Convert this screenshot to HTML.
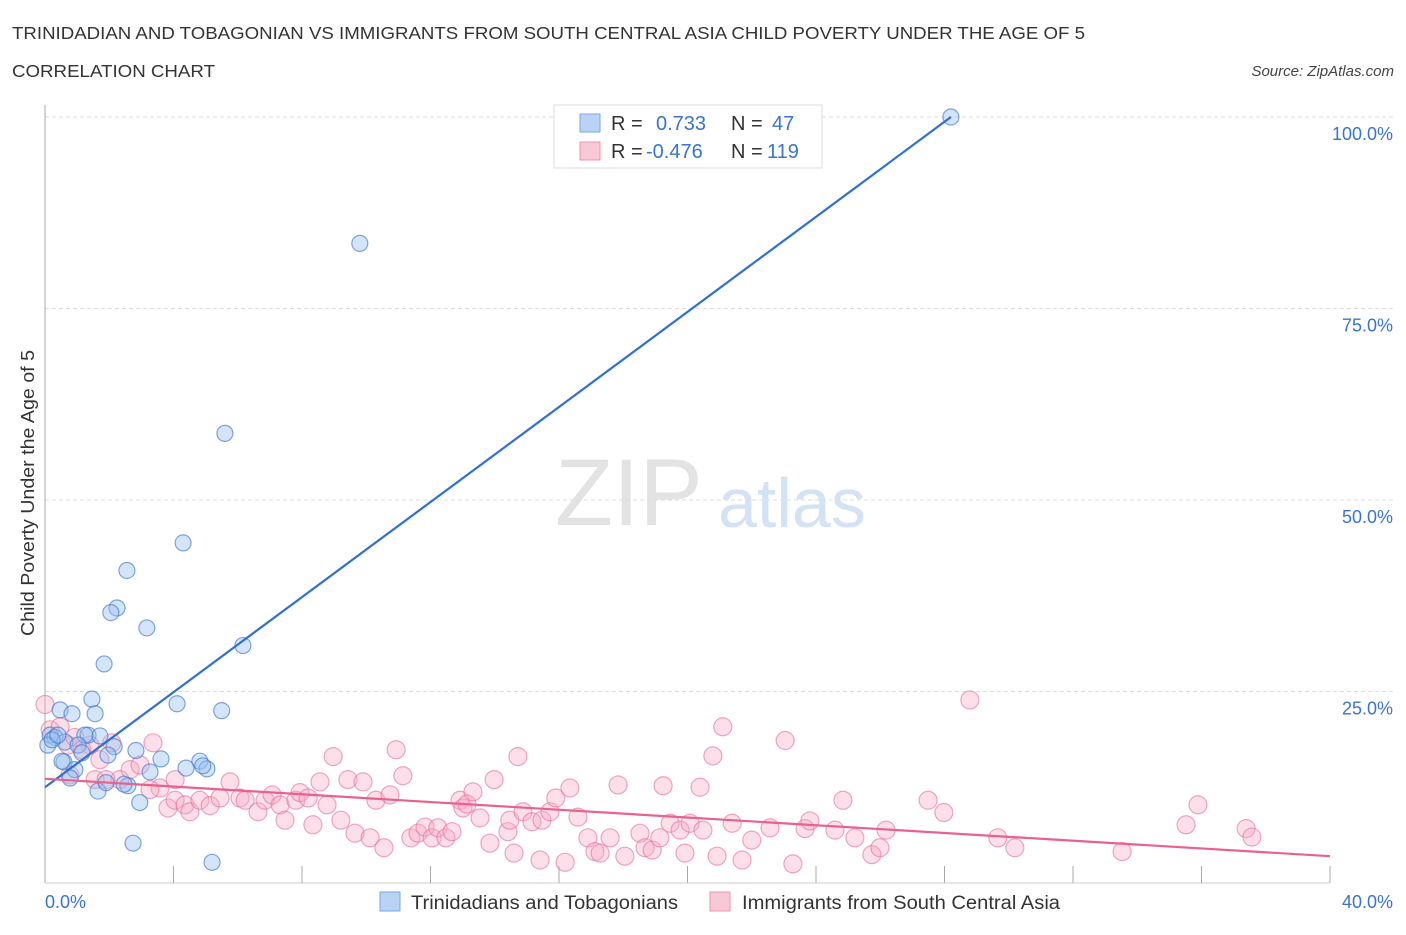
<!DOCTYPE html>
<html><head><meta charset="utf-8">
<style>
body{margin:0;background:#fff;font-family:"Liberation Sans",sans-serif;}
svg text{font-family:"Liberation Sans",sans-serif;}
</style></head>
<body>
<svg id="chart" width="1406" height="930" xmlns="http://www.w3.org/2000/svg">
<text x="12" y="39" font-size="17.5" fill="#333" textLength="1073" lengthAdjust="spacingAndGlyphs">TRINIDADIAN AND TOBAGONIAN VS IMMIGRANTS FROM SOUTH CENTRAL ASIA CHILD POVERTY UNDER THE AGE OF 5</text>
<text x="12" y="77" font-size="17.5" fill="#333" textLength="203" lengthAdjust="spacingAndGlyphs">CORRELATION CHART</text>
<text x="1394" y="76" font-size="15" fill="#444" font-style="italic" text-anchor="end">Source: ZipAtlas.com</text>
<text x="555" y="525" font-size="95" fill="#ddd" font-family="Liberation Serif" opacity="0.8">ZIP</text>
<text x="718" y="527" font-size="70" fill="#c9dcf2" opacity="0.8">atlas</text>
<text transform="translate(34,493) rotate(-90)" font-size="18" fill="#333" text-anchor="middle" textLength="286" lengthAdjust="spacingAndGlyphs">Child Poverty Under the Age of 5</text>
<g id="grid"></g><g id="axes"></g><g id="pink"></g><g id="blue"></g><g id="lines"></g>
<g>
<rect x="554" y="105" width="268" height="63" fill="#fff" stroke="#ddd"/>
<rect x="580" y="114" width="20" height="18" fill="#b9d3f5" stroke="#7aa7e6"/>
<rect x="580" y="142" width="20" height="18" fill="#f9c8d6" stroke="#ec93ae"/>
<text x="611" y="130" font-size="20" fill="#333">R =</text><text x="656" y="130" font-size="20" fill="#3a74d0">0.733</text>
<text x="731" y="130" font-size="20" fill="#333">N =</text><text x="772" y="130" font-size="20" fill="#3a74d0">47</text>
<text x="611" y="158" font-size="20" fill="#333">R =</text><text x="646" y="158" font-size="20" fill="#3a74d0">-0.476</text>
<text x="731" y="158" font-size="20" fill="#333">N =</text><text x="767" y="158" font-size="20" fill="#3a74d0">119</text>
</g>
<g>
<rect x="380" y="892" width="20" height="19" fill="#b9d3f5" stroke="#7aa7e6"/>
<text x="411" y="909" font-size="19" fill="#333" textLength="267" lengthAdjust="spacingAndGlyphs">Trinidadians and Tobagonians</text>
<rect x="710" y="892" width="20" height="19" fill="#f9c8d6" stroke="#ec93ae"/>
<text x="742" y="909" font-size="19" fill="#333" textLength="318" lengthAdjust="spacingAndGlyphs">Immigrants from South Central Asia</text>
</g>
</svg>
<script>
const yTicks=[25,50,75,100];
const yTickLabels=["25.0%","50.0%","75.0%","100.0%"];
const xTicks=[0,4,8,12,16,20,24,28,32,36,40];
const xLabels=["0.0%","40.0%"];
const blueX=[28.2,9.8,5.6,4.3,2.55,2.24,2.05,3.17,6.16,1.84,1.46,4.11,0.47,0.84,1.56,5.5,0.16,0.31,1.34,1.71,1.24,2.15,2.83,0.62,1.03,3.61,4.82,4.39,5.04,4.91,0.59,0.93,1.96,3.27,2.58,1.65,1.9,2.95,2.46,2.74,5.2,0.09,0.22,1.15,0.53,0.78,0.40];
const blueY=[100,83.5,58.7,44.4,40.8,35.9,35.3,33.3,31.0,28.6,24.0,23.4,22.6,22.1,22.1,22.5,19.3,19.0,19.3,19.2,19.3,17.8,17.3,18.4,18.0,16.2,15.9,15.0,14.9,15.3,15.8,14.8,16.7,14.5,12.7,12.0,13.1,10.5,12.9,5.2,2.7,18.0,18.7,17.0,15.9,13.7,19.3];
const pinkX=[0,0.16,0.47,0.72,0.93,1.4,1.71,2.08,2.33,2.65,2.96,3.36,3.58,3.83,4.05,4.36,4.51,4.82,5.14,5.45,5.76,6.07,6.23,6.63,6.85,7.07,7.32,7.47,7.81,7.94,8.19,8.34,8.56,8.78,8.97,9.21,9.43,9.65,9.9,10.12,10.3,10.55,10.74,10.93,11.14,11.39,11.61,11.83,12.05,12.23,12.48,12.67,12.92,13.01,13.14,13.32,13.54,13.85,13.98,14.41,14.47,14.6,14.72,14.88,15.16,15.41,15.47,15.72,15.9,16.19,16.34,16.59,16.9,17.12,17.28,17.59,17.84,18.05,18.52,18.68,18.9,19.14,19.24,19.46,19.77,19.92,20.08,20.39,20.48,20.79,20.92,21.1,21.39,21.7,22.0,22.57,23.04,23.28,23.66,23.81,24.59,24.84,25.21,25.74,25.99,26.18,27.49,27.98,28.79,29.66,30.19,33.53,35.52,35.89,37.39,37.57,0.78,1.15,1.56,1.9,3.27,4.05];
const pinkY=[23.3,20.0,20.4,18.0,19.0,18.0,16.1,18.3,13.5,14.8,15.4,18.3,12.4,9.8,10.8,10.2,9.3,10.8,10.1,11.1,13.2,11.1,10.8,9.3,10.8,11.5,10.2,8.2,10.8,11.8,11.1,7.6,13.2,10.2,16.5,8.2,13.5,6.5,13.2,5.9,10.8,4.6,11.5,17.4,14.0,5.9,6.5,7.3,5.9,7.2,5.9,6.7,10.8,9.8,10.3,11.9,8.5,5.2,13.5,6.7,8.2,3.9,16.5,9.3,8.0,3.0,8.2,9.3,11.1,2.7,12.4,8.6,5.9,4.1,3.9,5.9,12.8,3.5,6.5,4.6,4.3,5.9,12.7,7.8,6.9,3.9,7.8,12.5,6.9,16.6,3.5,20.4,7.8,3.0,5.6,7.2,18.6,2.5,7.1,8.1,6.9,10.8,5.9,3.7,4.6,6.9,10.8,9.2,23.9,5.9,4.6,4.1,7.6,10.2,7.1,6.0,14.1,17.4,13.5,13.5,12.2,13.5];
const blueTrendX=[0,28.2];
const blueTrendY=[12.5,100];
const pinkTrendX=[0,40];
const pinkTrendY=[13.6,3.5];

const NS="http://www.w3.org/2000/svg";
const X0=45,X1=1330,Y0=883,YTOP=117;
function sx(v){return X0+(X1-X0)*v/40;}
function sy(v){return Y0-(Y0-YTOP)*v/100;}
function mk(tag,attrs,parent){const e=document.createElementNS(NS,tag);for(const k in attrs)e.setAttribute(k,attrs[k]);document.getElementById(parent).appendChild(e);return e;}

yTicks.forEach((t,i)=>{
  const g=mk('line',{x1:X0,x2:1395,y1:sy(t),y2:sy(t),stroke:'#ddd','stroke-dasharray':'4,3'},'grid');
  
  
  const l=mk('text',{x:1393,y:sy(t)+23,'font-size':18,fill:'#3a74d0','text-anchor':'end'},'axes');
  l.textContent=yTickLabels[i];
  
  
});
const ax=mk('line',{x1:X0,x2:X0,y1:105,y2:Y0,stroke:'#aaa'},'axes');


xTicks.forEach(t=>{
  const tk=mk('line',{x1:sx(t),x2:sx(t),y1:Y0,y2:t===0?Y0:Y0-17,stroke:'#aaa'},'axes');
  
  
});
const xa=mk('line',{x1:X0,x2:X1,y1:Y0,y2:Y0,stroke:'#ccc'},'axes');


const xl0=mk('text',{x:45,y:908,'font-size':18,fill:'#3a74d0'},'axes');xl0.textContent=xLabels[0];


const xl1=mk('text',{x:1393,y:908,'font-size':18,fill:'#3a74d0','text-anchor':'end'},'axes');xl1.textContent=xLabels[1];



pinkX.forEach((x,i)=>{
  const c=mk('circle',{cx:sx(x),cy:sy(pinkY[i]),r:9,fill:'rgba(246,170,194,0.38)',stroke:'rgba(232,110,150,0.6)','stroke-width':1.2},'pink');
  
  
});
blueX.forEach((x,i)=>{
  const c=mk('circle',{cx:sx(x),cy:sy(blueY[i]),r:8,fill:'rgba(150,190,240,0.4)',stroke:'rgba(60,120,210,0.65)','stroke-width':1.2},'blue');
  
  
});
const bl=mk('line',{x1:sx(blueTrendX[0]),y1:sy(blueTrendY[0]),x2:sx(blueTrendX[1]),y2:sy(blueTrendY[1]),stroke:'#2f6fd6','stroke-width':2.2},'lines');


const pl=mk('line',{x1:sx(pinkTrendX[0]),y1:sy(pinkTrendY[0]),x2:sx(pinkTrendX[1]),y2:sy(pinkTrendY[1]),stroke:'#e8618f','stroke-width':2.2},'lines');


</script>
</body></html>
